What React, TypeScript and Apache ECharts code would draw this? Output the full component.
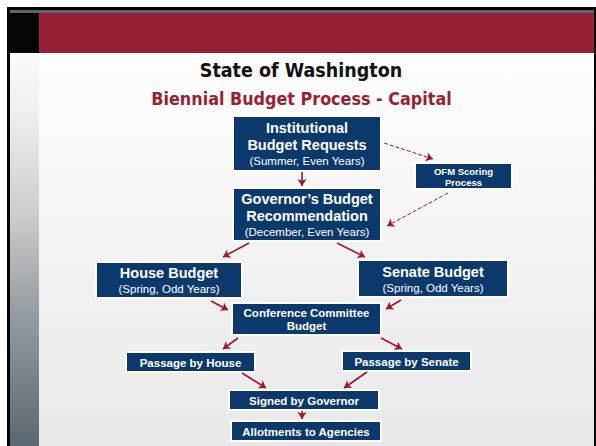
import React, { useEffect, useRef } from "react";
import * as echarts from "echarts";

// ---------- content ----------
const titleText = "State of Washington";
const subtitleText = "Biennial Budget Process - Capital";

const stepNames = [
  "Institutional Budget Requests",
  "OFM Scoring Process",
  "Governor’s Budget Recommendation",
  "House Budget",
  "Senate Budget",
  "Conference Committee Budget",
  "Passage by House",
  "Passage by Senate",
  "Signed by Governor",
  "Allotments to Agencies",
];

const stepLabels = [
  "{b|Institutional}\n{b|Budget Requests}\n{s|(Summer, Even Years)}",
  "{o|OFM Scoring}\n{o|Process}",
  "{b|Governor’s Budget}\n{b|Recommendation}\n{s|(December, Even Years)}",
  "{b|House Budget}\n{s|(Spring, Odd Years)}",
  "{b|Senate Budget}\n{s|(Spring, Odd Years)}",
  "{m|Conference Committee}\n{m|Budget}",
  "{m|Passage by House}",
  "{m|Passage by Senate}",
  "{m|Signed by Governor}",
  "{m|Allotments to Agencies}",
];

// flow links: [from, to, dashed]
const flowLinks: [number, number, boolean][] = [
  [0, 2, false],
  [0, 1, true],
  [1, 2, true],
  [2, 3, false],
  [2, 4, false],
  [3, 5, false],
  [4, 5, false],
  [5, 6, false],
  [5, 7, false],
  [6, 8, false],
  [7, 8, false],
  [8, 9, false],
];

// ---------- layout (in the chart's own 596 x 446 value space) ----------
const stepRects: [number, number, number, number][] = [
  [233, 116, 381, 171],
  [415, 163, 512, 189],
  [233, 188, 381, 241],
  [96, 262, 242, 298],
  [358, 260, 508, 297],
  [232, 303, 381, 335],
  [126, 352, 255, 372],
  [342, 351, 471, 371],
  [229, 390, 379, 410],
  [231, 421, 381, 441],
];

const linkPaths: [number, number, number, number][] = [
  [302, 172, 302, 186],
  [384, 143, 433, 159],
  [448, 193, 387, 226],
  [249, 243, 223, 257],
  [337, 243, 365, 257],
  [211, 301, 228, 310],
  [401, 300, 386, 309],
  [238, 338, 223, 349],
  [381, 338, 402, 349],
  [242, 373, 266, 388],
  [367, 372, 344, 388],
  [302, 411, 302, 419],
];

const NAVY = "#0b396c";
const RED = "#a3162f";
const BOX_FONT = "'Liberation Sans', Arial, sans-serif";
const TITLE_FONT = "'DejaVu Sans Condensed', 'DejaVu Sans', sans-serif";

const rich = {
  b: { fontFamily: BOX_FONT, fontWeight: "bold", fontSize: 14.5, lineHeight: 17, fill: "#fff", color: "#fff" },
  s: { fontFamily: BOX_FONT, fontWeight: "normal", fontSize: 11.5, lineHeight: 15, fill: "#fff", color: "#fff" },
  m: { fontFamily: BOX_FONT, fontWeight: "bold", fontSize: 11.5, lineHeight: 13, fill: "#fff", color: "#fff" },
  o: { fontFamily: BOX_FONT, fontWeight: "bold", fontSize: 9.5, lineHeight: 11, fill: "#fff", color: "#fff" },
};

export default function App() {
  const ref = useRef<HTMLDivElement>(null);

  useEffect(() => {
    if (!ref.current) return;
    const chart = echarts.init(ref.current, undefined, { renderer: "svg" });

    const boxData = stepRects.map((r, i) => ({
      name: stepNames[i],
      value: [r[0], r[1], r[2], r[3], i],
    }));

    const lineData = flowLinks.map((l, i) => {
      const p = linkPaths[i];
      return {
        name: stepNames[l[0]] + " → " + stepNames[l[1]],
        coords: [
          [p[0], p[1]],
          [p[2], p[3]],
        ],
        lineStyle: l[2]
          ? { type: "dashed", width: 1, color: RED, opacity: 1 }
          : { type: "solid", width: 1.6, color: RED, opacity: 1 },
      };
    });

    const option: any = {
      animation: false,
      grid: { left: 0, right: 0, top: 0, bottom: 0 },
      xAxis: { type: "value", min: 0, max: 596, show: false },
      yAxis: { type: "value", min: 0, max: 446, inverse: true, show: false },
      graphic: {
        elements: [
          { type: "rect", silent: true, z: -20, shape: { x: 7, y: 7, width: 589, height: 439 }, style: { fill: "#050505" } },
          { type: "rect", silent: true, z: -19, shape: { x: 10, y: 10, width: 584, height: 3 }, style: { fill: "#59656d" } },
          { type: "rect", silent: true, z: -19, shape: { x: 39, y: 13, width: 555, height: 40 }, style: { fill: "#961f33" } },
          {
            type: "rect",
            silent: true,
            z: -19,
            shape: { x: 10, y: 53, width: 29, height: 393 },
            style: {
              fill: new echarts.graphic.LinearGradient(0, 0, 0, 1, [
                { offset: 0, color: "#fafafa" },
                { offset: 0.15, color: "#efeff0" },
                { offset: 0.42, color: "#c9cbcd" },
                { offset: 0.63, color: "#9ca2a7" },
                { offset: 1, color: "#5b6770" },
              ]),
            },
          },
          {
            type: "rect",
            silent: true,
            z: -19,
            shape: { x: 39, y: 53, width: 555, height: 393 },
            style: {
              fill: new echarts.graphic.LinearGradient(0, 0, 0, 1, [
                { offset: 0, color: "#fefefe" },
                { offset: 1, color: "#e8e8e8" },
              ]),
            },
          },
          {
            type: "text",
            silent: true,
            z: -18,
            x: 301,
            y: 70,
            style: {
              text: titleText,
              fontFamily: TITLE_FONT,
              fontWeight: "bold",
              fontSize: 19.5,
              fill: "#111111",
              align: "center",
              verticalAlign: "middle",
            },
          },
          {
            type: "text",
            silent: true,
            z: -18,
            x: 301.5,
            y: 98,
            style: {
              text: subtitleText,
              fontFamily: TITLE_FONT,
              fontWeight: "bold",
              fontSize: 17.8,
              fill: "#9b1f33",
              align: "center",
              verticalAlign: "middle",
            },
          },
        ],
      },
      series: [
        {
          type: "custom",
          name: "Steps",
          coordinateSystem: "cartesian2d",
          data: boxData,
          renderItem: (_params: any, api: any) => {
            const i = api.value(4);
            const p0 = api.coord([api.value(0), api.value(1)]);
            const p1 = api.coord([api.value(2), api.value(3)]);
            return {
              type: "group",
              children: [
                {
                  type: "rect",
                  shape: { x: p0[0], y: p0[1], width: p1[0] - p0[0], height: p1[1] - p0[1] },
                  style: { fill: NAVY, stroke: "#ffffff", lineWidth: 2 },
                },
                {
                  type: "text",
                  x: (p0[0] + p1[0]) / 2,
                  y: (p0[1] + p1[1]) / 2 + 0.5,
                  style: {
                    text: stepLabels[i],
                    rich,
                    fill: "#fff",
                    align: "center",
                    verticalAlign: "middle",
                    fontFamily: BOX_FONT,
                  },
                },
              ],
            };
          },
        },
        {
          type: "lines",
          name: "Flow",
          coordinateSystem: "cartesian2d",
          symbol: ["none", "arrow"],
          symbolSize: 7,
          lineStyle: { color: RED, width: 1.6, opacity: 1, curveness: 0 },
          data: lineData,
          z: 3,
        },
      ],
    };

    chart.setOption(option);
    return () => chart.dispose();
  }, []);

  return (
    <div
      ref={ref}
      style={{ position: "absolute", left: 0, top: 0, width: 596, height: 446 }}
    />
  );
}
